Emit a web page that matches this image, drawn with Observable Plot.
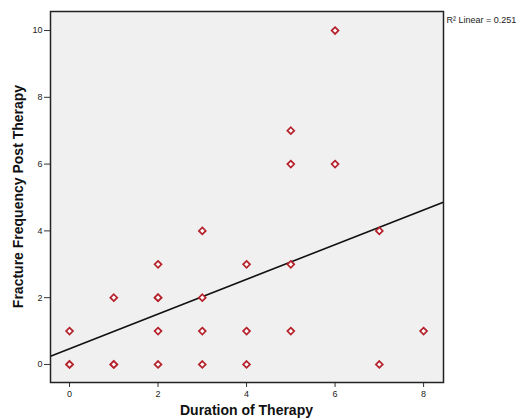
<!DOCTYPE html>
<html>
<head>
<meta charset="utf-8">
<script src="https://cdn.jsdelivr.net/npm/d3@7"></script>
<script src="https://cdn.jsdelivr.net/npm/@observablehq/plot@0.6"></script>
<style>
  html, body { margin: 0; padding: 0; background: #fff; }
  svg { display: block; }
</style>
</head>
<body>
<div id="chart"></div>
<script>
// Data (duplicates drawn bolder in the original)
const duration  = [0,0,0, 1,1,1, 2,2,2,2,2, 3,3,3,3, 4,4,4, 5,5,5,5, 6,6, 7,7, 8];
const fractures = [0,0,1, 0,0,2, 0,1,2,2,3, 0,1,2,4, 0,1,3, 1,3,6,7, 6,10, 0,4, 1];
const xTicks = [0,2,4,6,8];
const yTicks = [0,2,4,6,8,10];
const xLabel = "Duration of Therapy";
const yLabel = "Fracture Frequency Post Therapy";
const fitLabel = "R² Linear = 0.251";

const data = duration.map((d, i) => ({x: d, y: fractures[i]}));

// least-squares fit
const mx = d3.mean(duration), my = d3.mean(fractures);
const sxy = d3.sum(data, d => (d.x - mx) * (d.y - my));
const sxx = d3.sum(data, d => (d.x - mx) ** 2);
const slope = sxy / sxx, intercept = my - slope * mx;

const xDomain = [-0.43, 8.45];
const yDomain = [-0.54, 10.57];
const fit = xDomain.map(x => ({x, y: intercept + slope * x}));

const W = 527, H = 420;
const mL = 50, mR = 84, mT = 11, mB = 38;
const font = "'Liberation Sans', Arial, sans-serif";

const chart = Plot.plot({
  width: W, height: H,
  marginLeft: mL, marginRight: mR, marginTop: mT, marginBottom: mB,
  style: {fontFamily: font, fontSize: "9px", background: "#fff", color: "#222"},
  x: {domain: xDomain},
  y: {domain: yDomain},
  marks: [
    Plot.frame({fill: "#f0f0f0", stroke: "none"}),
    Plot.axisX({ticks: xTicks, tickSize: 5, tickPadding: 3, label: null, tickFormat: d3.format("d"), stroke: "#333", fontSize: 9}),
    Plot.axisY({ticks: yTicks, tickSize: 6, tickPadding: 2, label: null, tickFormat: d3.format("d"), stroke: "#333", fontSize: 9}),
    Plot.line(fit, {x: "x", y: "y", stroke: "#111", strokeWidth: 1.6, clip: true}),
    Plot.dot(data, {x: "x", y: "y", symbol: "diamond2", r: 3.1, stroke: "#b5202a", strokeWidth: 1.7, fill: "#fafafa"}),
    Plot.frame({stroke: "#222", strokeWidth: 1.5}),
    Plot.text([fitLabel], {frameAnchor: "top-right", dx: 3, dy: 5, textAnchor: "start", fontSize: 9, fill: "#222", clip: false})
  ]
});

const svg = d3.select(chart);
svg.append("text")
  .attr("x", mL + (W - mL - mR) / 2).attr("y", 415)
  .attr("text-anchor", "middle")
  .attr("font-family", font)
  .attr("font-weight", "bold").attr("font-size", 14).attr("fill", "#111")
  .text(xLabel);
svg.append("text")
  .attr("transform", `translate(23, ${mT + (H - mT - mB) / 2}) rotate(-90)`)
  .attr("text-anchor", "middle")
  .attr("font-family", font)
  .attr("font-weight", "bold").attr("font-size", 14).attr("fill", "#111")
  .text(yLabel);

document.getElementById("chart").appendChild(chart);
</script>
</body>
</html>
